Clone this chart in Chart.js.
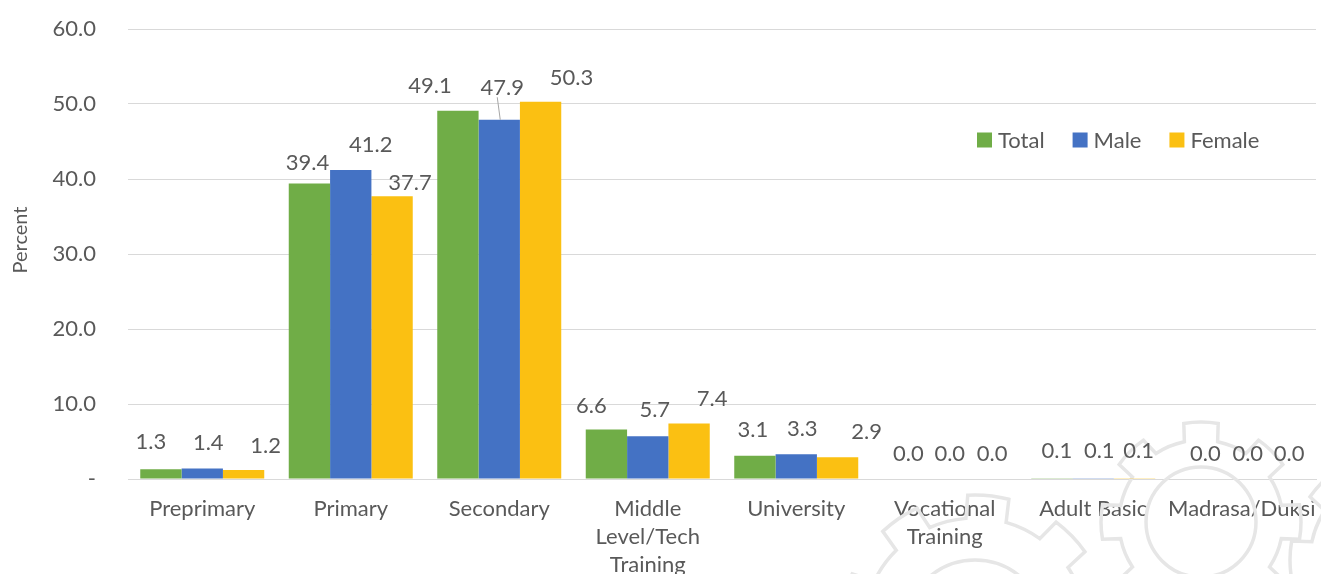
<!DOCTYPE html>
<html>
<head>
<meta charset="utf-8">
<script src="https://cdn.jsdelivr.net/npm/chart.js@4.4.1/dist/chart.umd.min.js"></script>
<style>
  html, body { margin: 0; padding: 0; background: #fff; }
  #wrap { width: 1321px; height: 574px; position: relative; }
</style>
</head>
<body>
<div id="wrap"><canvas id="eduChart"></canvas></div>
<script>
// education level categories (multi-line where the axis wraps them)
const aLevels = [
    "Preprimary",
    "Primary",
    "Secondary",
    ["Middle", "Level/Tech", "Training"],
    "University",
    ["Vocational", "Training"],
    "Adult Basic",
    "Madrasa/Duksi"
];
const aTotal  = [1.3, 39.4, 49.1, 6.6, 3.1, 0.0, 0.1, 0.0];
const aMale   = [1.4, 41.2, 47.9, 5.7, 3.3, 0.0, 0.1, 0.0];
const aFemale = [1.2, 37.7, 50.3, 7.4, 2.9, 0.0, 0.1, 0.0];
const aYTicks = [0, 10, 20, 30, 40, 50, 60];

const sTextColour = "#595959";
const sGridColour = "#d9d9d9";
const sFont = "Lato, 'Open Sans', sans-serif";

// hand placed value labels: [dx from bar centre, px above bar top] per series
const aLabelNudge = [
    [[-10, 27], [-2, 20.5], [-28, 25], [-15, 23.5], [-2, 26], [5, 25.5], [5, 27], [5, 25.5]],
    [[6, 26], [20, 25], [3, 31.5], [7, 26], [6, 25], [5, 25.5], [6, 27], [6, 25.5]],
    [[22, 24.5], [18, 13.5], [31, 24], [23, 24.5], [29, 25.5], [6, 25.5], [4, 27], [6, 25.5]]
];

// faint gear outlines behind the bottom-right of the plot
function gearPath(ctx, cx, cy, rRoot, rTip, nTeeth, rot) {
    const step = Math.PI * 2 / nTeeth;
    ctx.beginPath();
    for (let i = 0; i < nTeeth; i++) {
        const a = rot + i * step;
        const a1 = a - step * 0.22;
        const a2 = a + step * 0.22;
        ctx.arc(cx, cy, rTip, a1, a2);
        ctx.lineTo(cx + rRoot * Math.cos(a2 + step * 0.04), cy + rRoot * Math.sin(a2 + step * 0.04));
        ctx.arc(cx, cy, rRoot, a2 + step * 0.04, a + step - step * 0.26);
    }
    ctx.closePath();
    ctx.stroke();
}

const gearPlugin = {
    id: "gears",
    beforeDatasetsDraw(chart) {
        const ctx = chart.ctx;
        ctx.save();
        ctx.strokeStyle = "#e6e6e6";
        ctx.lineWidth = 3.5;
        gearPath(ctx, 1201, 522, 82, 100, 8, -Math.PI / 2);
        ctx.beginPath(); ctx.arc(1201, 522, 55, 0, Math.PI * 2); ctx.stroke();
        gearPath(ctx, 975, 630, 112, 135, 9, -Math.PI / 2 + 0.1);
        ctx.beginPath(); ctx.arc(975, 630, 70, 0, Math.PI * 2); ctx.stroke();
        gearPath(ctx, 1400, 560, 90, 110, 8, Math.PI);
        ctx.restore();
    }
};

// value labels, legend inside the plot and the y axis title
const labelPlugin = {
    id: "barLabels",
    afterDatasetsDraw(chart) {
        const ctx = chart.ctx;
        ctx.save();
        ctx.font = "22px " + sFont;
        ctx.fillStyle = sTextColour;
        ctx.textAlign = "center";
        ctx.textBaseline = "middle";
        chart.data.datasets.forEach((ds, di) => {
            const meta = chart.getDatasetMeta(di);
            meta.data.forEach((bar, i) => {
                const [dx, lift] = aLabelNudge[di][i];
                const ly = bar.y - lift;
                if (lift > 30) {
                    // label pulled well clear of its bar gets a leader line
                    ctx.strokeStyle = "#a6a6a6";
                    ctx.lineWidth = 1;
                    ctx.beginPath();
                    ctx.moveTo(bar.x - 2, ly + 9);
                    ctx.lineTo(bar.x + 1, bar.y);
                    ctx.stroke();
                }
                ctx.fillText(ds.data[i].toFixed(1), bar.x + dx, ly);
            });
        });

        // legend
        let x = 977;
        const y = 140;
        ctx.textAlign = "left";
        chart.data.datasets.forEach(ds => {
            ctx.fillStyle = ds.backgroundColor;
            ctx.fillRect(x, y - 7.5, 15, 15);
            ctx.fillStyle = sTextColour;
            ctx.fillText(ds.label, x + 21, y + 1);
            x += 21 + ctx.measureText(ds.label).width + 28;
        });

        // y axis title
        ctx.font = "20px " + sFont;
        ctx.textAlign = "center";
        ctx.translate(21, 240);
        ctx.rotate(-Math.PI / 2);
        ctx.fillText("Percent", 0, 0);
        ctx.restore();
    }
};

const data = {
    labels: aLevels,
    datasets: [
        { label: "Total",  data: aTotal,  backgroundColor: "#70ad47" },
        { label: "Male",   data: aMale,   backgroundColor: "#4472c4" },
        { label: "Female", data: aFemale, backgroundColor: "#fbc012" }
    ]
};

const config = {
    type: "bar",
    data: data,
    options: {
        responsive: true,
        maintainAspectRatio: false,
        animation: false,
        layout: { padding: { top: 29, right: 5, left: 0, bottom: 0 } },
        datasets: { bar: { barPercentage: 1.0, categoryPercentage: 0.835 } },
        plugins: {
            legend: { display: false },
            tooltip: { enabled: false },
            title: { display: false }
        },
        scales: {
            x: {
                grid: { display: false, drawTicks: false },
                border: { display: true, color: sGridColour, width: 1 },
                ticks: {
                    color: sTextColour,
                    font: { family: sFont, size: 22, lineHeight: 1.27 },
                    padding: 16,
                    maxRotation: 0,
                    autoSkip: false
                },
                afterFit(scale) {
                    scale.height = 95;
                    scale.paddingLeft = 0;
                    scale.paddingRight = 0;
                }
            },
            y: {
                min: 0,
                max: 60,
                afterBuildTicks(scale) { scale.ticks = aYTicks.map(v => ({ value: v })); },
                grid: { color: sGridColour, lineWidth: 1, drawTicks: false },
                border: { display: false },
                ticks: {
                    color: sTextColour,
                    font: { family: sFont, size: 22 },
                    padding: 32,
                    callback: v => v === 0 ? "-" : v.toFixed(1)
                },
                afterFit(scale) {
                    scale.width = 128;
                    scale.paddingTop = 0;
                    scale.paddingBottom = 0;
                }
            }
        }
    },
    plugins: [gearPlugin, labelPlugin]
};

new Chart(document.getElementById("eduChart").getContext("2d"), config);
</script>
</body>
</html>
